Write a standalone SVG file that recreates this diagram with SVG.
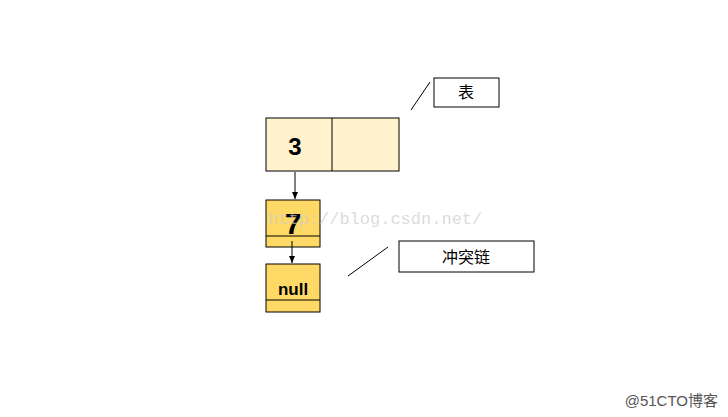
<svg xmlns="http://www.w3.org/2000/svg" width="728" height="417" viewBox="0 0 728 417">
<defs>
<style>
.n{stroke:#000;stroke-width:1}
.t{font-family:"Liberation Sans","Noto Sans CJK SC",sans-serif;font-weight:bold;fill:#000}
.c{font-family:"Liberation Sans","Noto Sans CJK SC",sans-serif;font-size:16px;fill:#000}
.l{stroke:#000;stroke-width:1;fill:none}
</style>
<marker id="a" markerWidth="8" markerHeight="8" refX="7" refY="4" orient="auto" markerUnits="userSpaceOnUse"><path d="M0,1 L7,4 L0,7 z" fill="#000"/></marker>
</defs>
<rect width="728" height="417" fill="#fff"/>
<g id="table">
<rect x="266" y="118" width="133" height="53" fill="#fff2cc" class="n"/>
<line x1="332" y1="118" x2="332" y2="171" class="l"/>
<text x="295" y="155" class="t" font-size="24" text-anchor="middle">3</text>
</g>
<g id="node7">
<rect x="266" y="200" width="54" height="47" fill="#ffd966" class="n"/>
<line x1="266" y1="236" x2="320" y2="236" class="l"/>
<text x="293" y="234" class="t" font-size="30" text-anchor="middle">7</text>
</g>
<g id="nodenull">
<rect x="266" y="264" width="54" height="48" fill="#ffd966" class="n"/>
<line x1="266" y1="300" x2="320" y2="300" class="l"/>
<text x="293" y="295" class="t" font-size="17" text-anchor="middle">null</text>
</g>
<g id="label-table">
<rect x="434" y="78" width="65" height="29" fill="#fff" class="n"/>
<text x="466" y="98" class="c" text-anchor="middle">表</text>
</g>
<g id="label-chain">
<rect x="399" y="241" width="135" height="31" fill="#fff" class="n"/>
<text x="466" y="263" class="c" text-anchor="middle">冲突链</text>
</g>
<g id="connectors">
<line x1="295" y1="172" x2="295" y2="199" class="l" marker-end="url(#a)"/>
<line x1="292" y1="241" x2="292" y2="263" class="l" marker-end="url(#a)"/>
<line x1="411" y1="110" x2="430" y2="82" class="l"/>
<line x1="348" y1="276" x2="388" y2="247" class="l"/>
</g>
<text x="268" y="224" font-family="Liberation Mono,monospace" font-size="17" fill="#cccccc" fill-opacity="0.7">http://blog.csdn.net/</text>
<text x="718" y="406" font-family="Liberation Sans,'Noto Sans CJK SC',sans-serif" font-size="15" fill="#555" text-anchor="end">@51CTO博客</text>
</svg>
